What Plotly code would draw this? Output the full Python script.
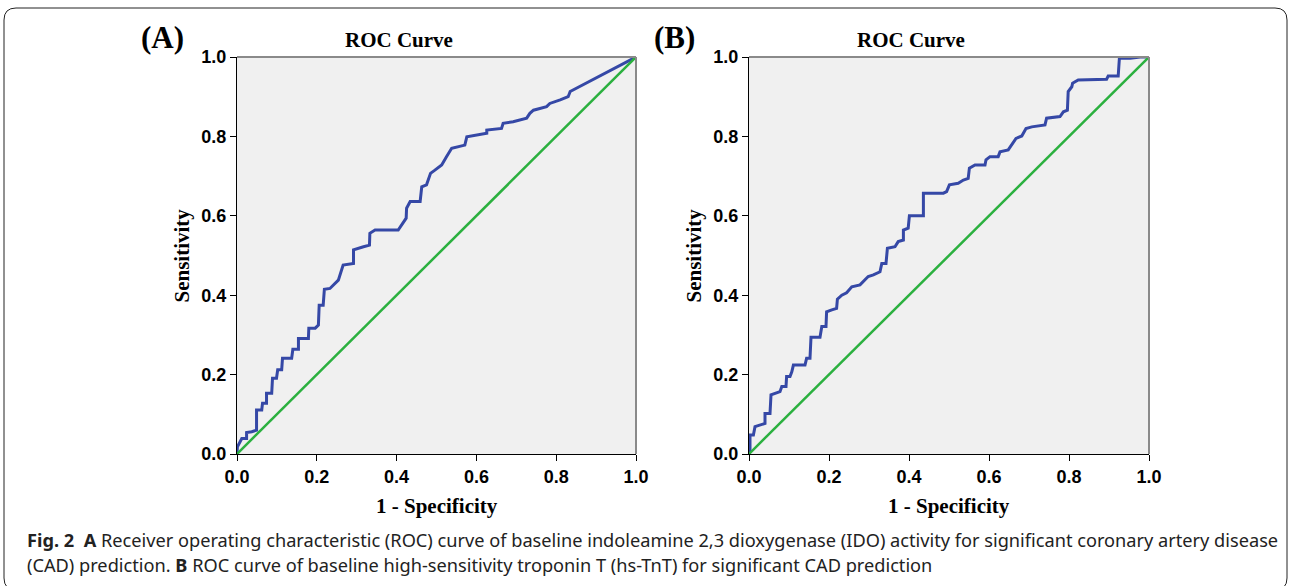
import plotly.graph_objects as go

# ---- data ----
ticks = [0.0, 0.2, 0.4, 0.6, 0.8, 1.0]
tick_text = ["0.0", "0.2", "0.4", "0.6", "0.8", "1.0"]

fpr_a = [0, 0.001, 0.012, 0.024, 0.024, 0.037, 0.049, 0.049, 0.062, 0.064, 0.074, 0.074, 0.087, 0.089, 0.099,
         0.102, 0.112, 0.114, 0.137, 0.14, 0.154, 0.154, 0.179, 0.18, 0.196, 0.204, 0.206, 0.216, 0.219, 0.233,
         0.254, 0.266, 0.292, 0.292, 0.317, 0.332, 0.333, 0.346, 0.404, 0.413, 0.424, 0.425, 0.434, 0.459, 0.463,
         0.475, 0.485, 0.496, 0.513, 0.525, 0.538, 0.571, 0.576, 0.626, 0.626, 0.663, 0.667, 0.692, 0.726, 0.734,
         0.743, 0.776, 0.784, 0.81, 0.83, 0.835, 1.0]
tpr_a = [0, 0.018, 0.039, 0.039, 0.054, 0.056, 0.06, 0.111, 0.111, 0.128, 0.128, 0.153, 0.153, 0.191, 0.191,
         0.212, 0.212, 0.241, 0.241, 0.264, 0.264, 0.291, 0.291, 0.317, 0.317, 0.325, 0.375, 0.375, 0.415, 0.417,
         0.438, 0.476, 0.48, 0.514, 0.522, 0.526, 0.556, 0.564, 0.564, 0.577, 0.594, 0.619, 0.636, 0.636, 0.673,
         0.678, 0.707, 0.715, 0.728, 0.749, 0.77, 0.778, 0.799, 0.808, 0.816, 0.82, 0.833, 0.837, 0.846, 0.858,
         0.866, 0.875, 0.883, 0.892, 0.9, 0.913, 1.0]

fpr_b = [0, 0.0025, 0.0025, 0.011, 0.015, 0.0275, 0.04, 0.04, 0.0525, 0.055, 0.069, 0.0775, 0.082, 0.0925, 0.094,
         0.1025, 0.107, 0.111, 0.14, 0.144, 0.1525, 0.155, 0.1775, 0.182, 0.1925, 0.194, 0.207, 0.219, 0.221, 0.232,
         0.244, 0.257, 0.2775, 0.286, 0.298, 0.311, 0.3275, 0.332, 0.3425, 0.346, 0.365, 0.373, 0.386, 0.386, 0.398,
         0.401, 0.436, 0.436, 0.486, 0.494, 0.501, 0.523, 0.536, 0.548, 0.551, 0.565, 0.59, 0.5925, 0.6025, 0.623,
         0.6275, 0.648, 0.657, 0.6675, 0.682, 0.6925, 0.707, 0.74, 0.744, 0.7775, 0.786, 0.796, 0.798, 0.807, 0.809,
         0.823, 0.894, 0.898, 0.923, 0.926, 0.953, 0.978, 1.0]
tpr_b = [0, 0.006, 0.048, 0.048, 0.069, 0.073, 0.077, 0.102, 0.102, 0.149, 0.153, 0.157, 0.17, 0.17, 0.195,
         0.195, 0.207, 0.224, 0.224, 0.241, 0.241, 0.294, 0.294, 0.321, 0.321, 0.358, 0.363, 0.367, 0.39, 0.4,
         0.406, 0.421, 0.426, 0.434, 0.447, 0.451, 0.459, 0.48, 0.48, 0.518, 0.522, 0.535, 0.539, 0.564, 0.569,
         0.6, 0.6, 0.657, 0.657, 0.661, 0.678, 0.682, 0.69, 0.694, 0.72, 0.728, 0.728, 0.741, 0.749, 0.749,
         0.761, 0.766, 0.778, 0.795, 0.801, 0.82, 0.824, 0.829, 0.846, 0.85, 0.862, 0.866, 0.913, 0.925, 0.934,
         0.942, 0.944, 0.952, 0.952, 0.997, 0.997, 1.0, 1.0]

ref_line = [0.0, 1.0]

W, H = 1292, 586
BLUE = "#3548a6"
GREEN = "#2bb03f"
SERIF = "Liberation Serif, Times New Roman, serif"
SANS = "Liberation Sans, Arial, sans-serif"

def px(x):
    return x / W

def py(y):
    return 1 - y / H

fig = go.Figure()
fig.add_trace(go.Scatter(x=fpr_a, y=tpr_a, mode="lines", line=dict(color=BLUE, width=3), xaxis="x", yaxis="y", hoverinfo="skip"))
fig.add_trace(go.Scatter(x=ref_line, y=ref_line, mode="lines", line=dict(color=GREEN, width=2.5), xaxis="x", yaxis="y", hoverinfo="skip"))
fig.add_trace(go.Scatter(x=fpr_b, y=tpr_b, mode="lines", line=dict(color=BLUE, width=3), xaxis="x2", yaxis="y2", hoverinfo="skip"))
fig.add_trace(go.Scatter(x=ref_line, y=ref_line, mode="lines", line=dict(color=GREEN, width=2.5), xaxis="x2", yaxis="y2", hoverinfo="skip"))

# plot areas in pixels
A = dict(x0=237, x1=636, y0=57, y1=454)
B = dict(x0=749, x1=1149, y0=57, y1=454)

axis_common = dict(range=[0, 1], showgrid=False, zeroline=False, showline=True, linecolor="black", linewidth=1,
                   ticks="outside", ticklen=6, tickcolor="black", tickwidth=1, automargin=False,
                   tickvals=ticks, ticktext=tick_text,
                   tickfont=dict(family=SANS, size=18, color="black", weight="bold"), fixedrange=True)

fig.update_layout(
    width=W, height=H, margin=dict(l=0, r=0, t=0, b=0, pad=0, autoexpand=False),
    paper_bgcolor="white", plot_bgcolor="#f0f0f0", showlegend=False,
    xaxis=dict(domain=[px(A["x0"]), px(A["x1"])], anchor="y", **axis_common),
    yaxis=dict(domain=[py(A["y1"]), py(A["y0"])], anchor="x", **axis_common),
    xaxis2=dict(domain=[px(B["x0"]), px(B["x1"])], anchor="y2", **axis_common),
    yaxis2=dict(domain=[py(B["y1"]), py(B["y0"])], anchor="x2", **axis_common),
)

shapes = []
# gray top/right frame lines
for xr, yr in (("x domain", "y domain"), ("x2 domain", "y2 domain")):
    shapes.append(dict(type="line", xref=xr, yref=yr, x0=0, x1=1, y0=1, y1=1, line=dict(color="#8a8a8a", width=2)))
    shapes.append(dict(type="line", xref=xr, yref=yr, x0=1, x1=1, y0=0, y1=1, line=dict(color="#8a8a8a", width=2)))

# rounded outer card border
L, R, T, Bt, r = 4, 1287, 8, 590, 12
path = (f"M {px(L+r)},{py(T)} L {px(R-r)},{py(T)} Q {px(R)},{py(T)} {px(R)},{py(T+r)} "
        f"L {px(R)},{py(Bt-r)} Q {px(R)},{py(Bt)} {px(R-r)},{py(Bt)} "
        f"L {px(L+r)},{py(Bt)} Q {px(L)},{py(Bt)} {px(L)},{py(Bt-r)} "
        f"L {px(L)},{py(T+r)} Q {px(L)},{py(T)} {px(L+r)},{py(T)} Z")
shapes.append(dict(type="path", xref="paper", yref="paper", path=path, line=dict(color="#222222", width=1)))
fig.update_layout(shapes=shapes)

ann = []
for P, lab in ((A, "(A)"), (B, "(B)")):
    cx = (P["x0"] + P["x1"]) / 2
    ann.append(dict(text="<b>ROC Curve</b>", x=px(cx - 38), y=py(40), xref="paper", yref="paper", showarrow=False,
                    font=dict(family=SERIF, size=21, color="black"), xanchor="center", yanchor="middle"))
    ann.append(dict(text="<b>1 - Specificity</b>", x=px(cx), y=py(506), xref="paper", yref="paper", showarrow=False,
                    font=dict(family=SERIF, size=21, color="black"), xanchor="center", yanchor="middle"))
    ann.append(dict(text="<b>Sensitivity</b>", x=px(P["x0"] - 56), y=py((P["y0"] + P["y1"]) / 2), xref="paper",
                    yref="paper", showarrow=False, textangle=-90,
                    font=dict(family=SERIF, size=21, color="black"), xanchor="center", yanchor="middle"))
    ann.append(dict(text=f"<b>{lab}</b>", x=px(P["x0"] - 75), y=py(38), xref="paper", yref="paper", showarrow=False,
                    font=dict(family=SERIF, size=31, color="black"), xanchor="center", yanchor="middle"))

CAP = "Noto Sans, Open Sans, sans-serif"
ann.append(dict(text="<b>Fig. 2</b>  <b>A</b> Receiver operating characteristic (ROC) curve of baseline indoleamine 2,3 dioxygenase (IDO) activity for significant coronary artery disease",
                x=px(25), y=py(540), xref="paper", yref="paper", showarrow=False, xanchor="left", yanchor="middle",
                font=dict(family=CAP, size=18.2, color="#222222")))
ann.append(dict(text="(CAD) prediction. <b>B</b> ROC curve of baseline high-sensitivity troponin T (hs-TnT) for significant CAD prediction",
                x=px(25), y=py(565), xref="paper", yref="paper", showarrow=False, xanchor="left", yanchor="middle",
                font=dict(family=CAP, size=18.2, color="#222222")))
fig.update_layout(annotations=ann)

fig.write_html("out.html", config={"displayModeBar": False},
               post_script="document.body.style.margin='0';document.body.style.overflow='hidden';")
